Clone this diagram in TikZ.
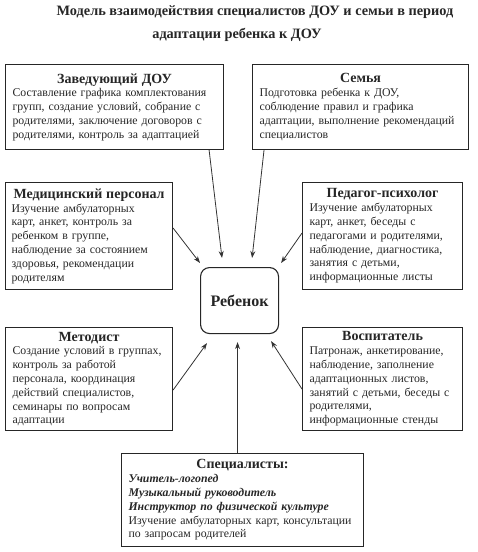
\documentclass[tikz,border=0pt]{standalone}
\usepackage{fontspec}
\setmainfont{Liberation Serif}
\usetikzlibrary{arrows.meta}
\begin{document}
\begin{tikzpicture}[x=1pt,y=-1pt]
\tikzstyle{every node}=[font=\fontsize{11.8}{13.8}\selectfont,text=black!85]
\tikzstyle{box}=[draw=black!85,line width=1.1pt,inner xsep=7pt,inner ysep=0pt,anchor=north west,align=left]
\tikzstyle{arr}=[-{Stealth[length=7pt,width=5pt]},line width=0.8pt,draw=black!80]
\useasboundingbox (0,0) rectangle (477,552);
\node[font=\fontsize{14.3}{16}\selectfont\bfseries] (titleA) at (255,12) {Модель взаимодействия специалистов ДОУ и семьи в период};
\node[font=\fontsize{14.3}{16}\selectfont\bfseries] (titleB) at (237,35) {адаптации ребенка к ДОУ};
\node[box,minimum width=218,minimum height=85,text width=204] (zav) at (5,64)
 {{\centering\fontsize{14}{15}\selectfont\bfseries Заведующий ДОУ\par}\raggedright
 Составление графика комплектования\\групп, создание условий, собрание с\\родителями, заключение договоров с\\родителями, контроль за адаптацией};
\node[box,minimum width=216,minimum height=85,text width=202] (sem) at (252,64)
 {{\centering\fontsize{14}{15}\selectfont\bfseries Семья\par}\raggedright
 Подготовка ребенка к ДОУ,\\соблюдение правил и графика\\адаптации, выполнение рекомендаций\\специалистов};
\node[box,minimum width=167,minimum height=107,text width=155,inner xsep=6pt] (med) at (5,182)
 {{\centering\fontsize{14}{15}\selectfont\bfseries Медицинский персонал\par}\raggedright
 Изучение амбулаторных\\карт, анкет, контроль за\\ребенком в группе,\\наблюдение за состоянием\\здоровья, рекомендации\\родителям};
\node[box,minimum width=160,minimum height=107,text width=146] (ped) at (302,182)
 {{\centering\fontsize{14}{15}\selectfont\bfseries Педагог-психолог\par}\raggedright
 Изучение амбулаторных\\карт, анкет, беседы с\\педагогами и родителями,\\наблюдение, диагностика,\\занятия с детьми,\\информационные листы};
\node[draw=black!85,line width=1.1pt,rounded corners=9pt,minimum width=78,minimum height=66,anchor=north west,font=\fontsize{16}{18}\selectfont\bfseries] (reb) at (200,267) {Ребенок};
\node[box,minimum width=167,minimum height=103,text width=153] (met) at (5,327)
 {{\centering\fontsize{14}{15}\selectfont\bfseries Методист\par}\raggedright
 Создание условий в группах,\\контроль за работой\\персонала, координация\\действий специалистов,\\семинары по вопросам\\адаптации};
\node[box,minimum width=160,minimum height=103,text width=146] (vos) at (302,327)
 {{\centering\fontsize{14}{15}\selectfont\bfseries Воспитатель\par}\raggedright
 Патронаж, анкетирование,\\наблюдение, заполнение\\адаптационных листов,\\занятий с детьми, беседы с\\родителями,\\информационные стенды};
\node[box,minimum width=242,minimum height=93,text width=228] (spe) at (121,453)
 {{\centering\fontsize{14}{15}\selectfont\bfseries Специалисты:\par}\raggedright
 \textbf{\textit{Учитель-логопед}}\\\textbf{\textit{Музыкальный руководитель}}\\\textbf{\textit{Инструктор по физической культуре}}\\Изучение амбулаторных карт, консультации\\по запросам родителей};
\draw[arr] ([xshift=-15pt]zav.south east)--([shift={(22pt,9pt)}]reb.north west);
\draw[arr] ([xshift=12pt]sem.south west)--([shift={(-27pt,9pt)}]reb.north east);
\draw[arr] ([yshift=8pt]med.east)--([shift={(0pt,4pt)}]reb.north west);
\draw[arr] ([yshift=3pt]ped.west)--([shift={(2pt,4pt)}]reb.north east);
\draw[arr] ([yshift=-11pt]met.east)--([shift={(7pt,-9pt)}]reb.south west);
\draw[arr] ([yshift=-10pt]vos.west)--([shift={(-8pt,-7pt)}]reb.south east);
\draw[arr] ([xshift=-5pt]spe.north)--([shift={(-2pt,-8pt)}]reb.south);
\end{tikzpicture}
\end{document}
